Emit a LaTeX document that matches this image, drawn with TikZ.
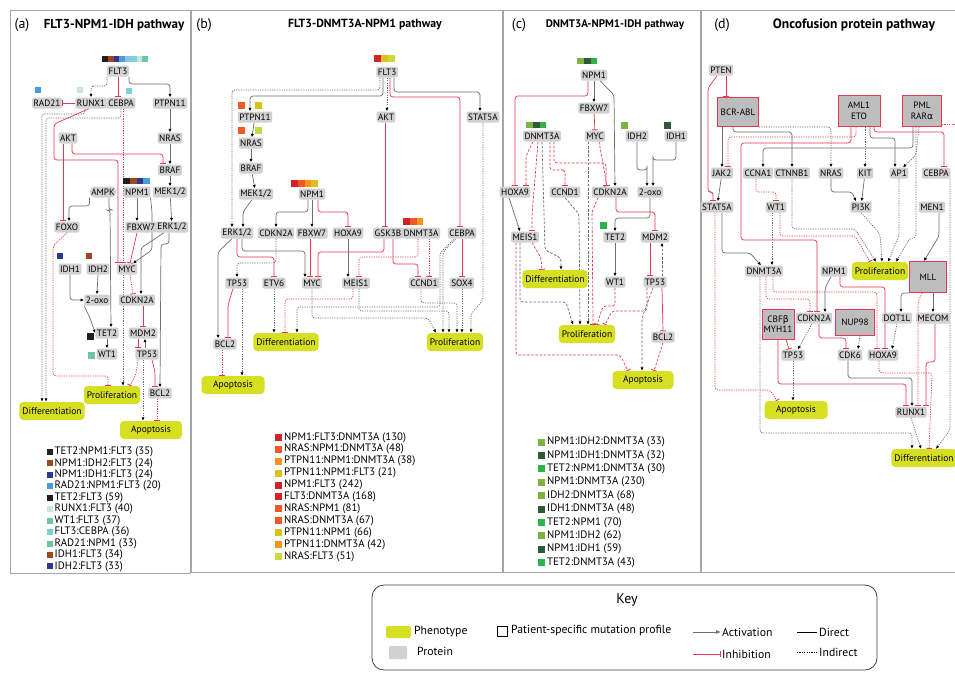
\documentclass[tikz,border=0pt]{standalone}
\usepackage{fontspec}
\setmainfont{PT Sans}
\newfontfamily\grk{DejaVu Sans}
\usetikzlibrary{arrows.meta}
\definecolor{protgray}{HTML}{D1D1D1}
\definecolor{fusgray}{HTML}{BDBDBD}
\definecolor{phenyel}{HTML}{D7DF23}
\definecolor{inhred}{HTML}{E8384F}
\definecolor{actgray}{HTML}{6D6E71}
\definecolor{cBlk}{HTML}{231F20}
\definecolor{cBrn}{HTML}{A2461E}
\definecolor{cNvy}{HTML}{2B3990}
\definecolor{cSky}{HTML}{4A9BD8}
\definecolor{cLbl}{HTML}{8CC3E8}
\definecolor{cCyn}{HTML}{7FD1D9}
\definecolor{cPal}{HTML}{C7E8D5}
\definecolor{cTeal}{HTML}{6DC5A5}
\definecolor{cRed}{HTML}{D2232A}
\definecolor{cOrR}{HTML}{EE5A24}
\definecolor{cOrg}{HTML}{F7941D}
\definecolor{cGld}{HTML}{DDBF1E}
\definecolor{cYgn}{HTML}{C9DA3A}
\definecolor{cLim}{HTML}{7CB342}
\definecolor{cDkg}{HTML}{2E5B3C}
\definecolor{cGrn}{HTML}{2DB34A}
\pgfdeclarelayer{paper}
\pgfdeclarelayer{back}
\pgfsetlayers{paper,back,main}
\tikzset{
  prot/.style={fill=protgray,rounded corners=2pt,inner xsep=1.5pt,inner ysep=1pt,minimum height=11pt,font=\fontsize{9.2}{10}\selectfont},
  phen/.style={fill=phenyel,rounded corners=4pt,minimum height=18pt,minimum width=55pt,inner xsep=3pt,font=\fontsize{9.5}{10}\selectfont},
  fus/.style={fill=fusgray,draw=inhred,line width=1pt,align=center,minimum width=38pt,minimum height=29pt,inner sep=1pt,font=\fontsize{9.2}{10.5}\selectfont},
  lnk/.style={line width=0.7pt,rounded corners=3pt},
  act/.style={lnk,draw=actgray,-{Latex[length=3.4pt,width=3.2pt,color=black]}},
  inh/.style={lnk,draw=inhred,-{Bar[width=6pt,line width=0.9pt]}},
  ind/.style={dash pattern=on 1.2pt off 1.2pt},
  dsh/.style={dash pattern=on 2.6pt off 1.6pt},
  pnl/.style={draw=black!35,line width=1pt},
  lbl/.style={font=\fontsize{14}{16}\selectfont},
  ttl/.style={font=\fontsize{11}{13}\selectfont\bfseries},
  leg/.style={anchor=west,inner sep=0pt,font=\fontsize{10.8}{11}\selectfont},
  keytxt/.style={anchor=west,inner sep=1pt,font=\fontsize{11.7}{13}\selectfont}
}
\begin{document}
\begin{tikzpicture}[x=1pt,y=-1pt]
\useasboundingbox (0,0) rectangle (955,673);
\begin{pgfonlayer}{paper}
\fill[white] (0,0) rectangle (955,673);
\end{pgfonlayer}
\draw[pnl] (10,10) rectangle (190,573);
\draw[pnl] (191,10) rectangle (502,572);
\draw[pnl] (503,10) rectangle (700,572);
\draw[pnl] (701,10) rectangle (965,572);

% (a) FLT3-NPM1-IDH
\node[lbl] (aTag) at (22,25) {(a)};
\node[ttl,font=\fontsize{13}{15}\selectfont\bfseries] (aTtl) at (114,25) {FLT3-NPM1-IDH pathway};
\foreach \c [count=\k from 0] in {cBlk,cBrn,cNvy,cSky,cLbl,cCyn,cPal,cTeal}
  \fill[\c] (102+5.75*\k,56) rectangle ++(5.75,6);
\foreach \c [count=\k from 0] in {cBlk,cBrn,cNvy,cSky}
  \fill[\c] (123+6.75*\k,178) rectangle ++(6.75,5.5);
\fill[cSky] (35,87) rectangle ++(6,6);
\fill[cPal] (77,87) rectangle ++(6,6);
\fill[cCyn] (126,88) rectangle ++(6,6);
\fill[cNvy] (57,253) rectangle ++(6,6);
\fill[cBrn] (86,253) rectangle ++(6,6);
\fill[cBlk] (87,333) rectangle ++(7,7);
\fill[cTeal] (88,352) rectangle ++(7,7);

\node[prot] (aFLT3) at (118,71) {FLT3};
\node[prot] (aRAD21) at (47,103) {RAD21};
\node[prot] (aRUNX1) at (91,103) {RUNX1};
\node[prot] (aCEBPA) at (121,103) {CEBPA};
\node[prot] (aPTPN11) at (170,103) {PTPN11};
\node[prot] (aAKT) at (68,138) {AKT};
\node[prot] (aNRAS) at (170,138) {NRAS};
\node[prot] (aBRAF) at (170,170) {BRAF};
\node[prot,rounded corners=5pt] (aAMPK) at (103,192) {AMPK};
\node[prot] (aNPM1) at (137,192) {NPM1};
\node[prot] (aMEK) at (170,192) {MEK1/2};
\node[prot] (aFOXO) at (67,227) {FOXO};
\node[prot] (aFBXW7) at (141,227) {FBXW7};
\node[prot] (aERK) at (172,227) {ERK1/2};
\node[prot] (aIDH1) at (70,269) {IDH1};
\node[prot] (aIDH2) at (98,269) {IDH2};
\node[prot] (aMYC) at (127,269) {MYC};
\node[prot] (aOXO) at (97,300) {2-oxo};
\node[prot] (aCDKN) at (137,300) {CDKN2A};
\node[prot] (aTET2) at (107,333) {TET2};
\node[prot] (aMDM2) at (143,333) {MDM2};
\node[prot] (aWT1) at (107,354) {WT1};
\node[prot] (aTP53) at (147,354) {TP53};
\node[phen] (aProl) at (112,395) {Proliferation};
\node[prot] (aBCL2) at (160,393) {BCL2};
\node[phen] (aDiff) at (52,411) {Differentiation};
\node[phen,minimum width=62pt] (aApop) at (151,430) {Apoptosis};

\begin{pgfonlayer}{back}
\draw[act,ind] (aFLT3.south west) |- (96,86) -| (aRUNX1.north);
\draw[inh] (aFLT3.south) -- (aFLT3.south |- aCEBPA.north);
\draw[act] (aFLT3.south east) |- (150,84) -| (aPTPN11.north);
\draw[inh] (aRUNX1.west) -- (aRAD21.east);
\draw[act,ind] ([xshift=-6pt]aRUNX1.south) |- (42,114) -- ([xshift=-10pt]aDiff.north);
\draw[act,ind] (aCEBPA.south) |- (46,118) -- ([xshift=-6pt]aDiff.north);
\draw[inh] ([xshift=-2pt]aRUNX1.south) -- (54,124) -- (54,160) -| ([xshift=-9pt]aMYC.north);
\draw[inh,ind] ([xshift=2pt]aCEBPA.south) -- ([xshift=-4pt]aMYC.north);
\draw[act] (aPTPN11) -- (aNRAS);
\draw[act] (aNRAS) -- (aBRAF);
\draw[act] (aBRAF) -- (aMEK);
\draw[act] (aMEK) -- (aERK);
\draw[inh] ([xshift=-5pt]aAKT.south) -- ([xshift=-4pt]aFOXO.north);
\draw[inh] ([xshift=4pt]aAKT.south) |- (150,154) -| ([xshift=-7pt]aBRAF.north);
\draw[act] (aAMPK.south west) |- (78,206) -| ([xshift=2pt]aFOXO.north);
\draw[act] ([xshift=6pt]aAMPK.south) |- (110,210) -- ([xshift=4pt]aTET2.north);
\draw[act] (aNPM1.south) -- (aNPM1.south |- aFBXW7.north);
\draw[act] (aNPM1.south east) -- (152,212) -- (152,250) -- ([xshift=6pt]aMYC.north);
\draw[act] ([xshift=-8pt]aERK.south) -- (141,248) -- ([xshift=4pt]aCDKN.north);
\draw[act] ([xshift=-3pt]aERK.south) |- (161,244) -- (aBCL2.north);
\draw[inh] ([xshift=-4pt]aFBXW7.south) -- (134,246) -- ([xshift=3pt]aMYC.north);
\draw[inh,ind] (aFOXO.south) -- (53,246) -- (53,376) -| ([xshift=-4pt]aProl.north);
\draw[act] (aIDH1.south) |- (aOXO.west);
\draw[act] (aIDH2.south) -- (aOXO.north);
\draw[act] (aOXO.south west) -- (90,318) -- (aTET2.west);
\draw[act] (aTET2) -- (aWT1);
\draw[inh,ind] ([xshift=3pt]aMYC.south) -- ([xshift=-4pt]aCDKN.north);
\draw[inh] ([xshift=6pt]aCDKN.south) -- (aMDM2.north);
\draw[inh] ([xshift=-5pt]aMDM2.south) -- ([xshift=-9pt]aTP53.north);
\draw[act] ([xshift=-2pt]aTP53.north) -- ([xshift=2pt]aMDM2.south);
\draw[inh] ([xshift=5pt]aTP53.south) -- (155,372) -- ([xshift=-5pt]aBCL2.north);
\draw[act,ind] ([xshift=-4pt]aTP53.south) -- ([xshift=-8pt]aApop.north);
\draw[inh,ind] ([xshift=-3pt]aBCL2.south) -- ([xshift=6pt]aApop.north);
\draw[act,ind] ([xshift=-4pt]aMYC.south) -- ([xshift=11pt]aProl.north);
\draw[inh,ind] ([xshift=-9pt]aTP53.south) -- (136,374) -- ([xshift=18pt]aProl.north);
\end{pgfonlayer}

\foreach \c/\t [count=\k] in {cBlk/TET2:NPM1:FLT3 (35), cBrn/NPM1:IDH2:FLT3 (24), cNvy/NPM1:IDH1:FLT3 (24), cSky/RAD21:NPM1:FLT3 (20), cBlk/TET2:FLT3 (59), cPal/RUNX1:FLT3 (40), cTeal/WT1:FLT3 (37), cCyn/FLT3:CEBPA (36), cTeal/RAD21:NPM1 (33), cBrn/IDH1:FLT3 (34), cNvy/IDH2:FLT3 (33)} {
  \fill[\c] (47,437.5+11.45*\k) rectangle ++(6,6);
  \node[leg] (aL\k) at (54.5,440.5+11.45*\k) {\t};
}

% (b) FLT3-DNMT3A-NPM1
\node[lbl] (bTag) at (204,25) {(b)};
\node[ttl,font=\fontsize{11.8}{14}\selectfont\bfseries] (bTtl) at (365,25) {FLT3-DNMT3A-NPM1 pathway};
\foreach \c [count=\k from 0] in {cRed,cGld,cYgn}
  \fill[\c] (374+7*\k,55) rectangle ++(7,7);
\foreach \c [count=\k from 0] in {cRed,cOrR,cOrg,cGld}
  \fill[\c] (291+6.75*\k,180) rectangle ++(6.75,6.5);
\foreach \c [count=\k from 0] in {cRed,cOrR,cOrg}
  \fill[\c] (403+6.75*\k,218) rectangle ++(6.75,6.5);
\fill[cOrR] (238,102) rectangle ++(7,7);
\fill[cGld] (255,102) rectangle ++(7,7);
\fill[cOrR] (238,127) rectangle ++(7,7);
\fill[cYgn] (255,127) rectangle ++(7,7);

\node[prot] (bFLT3) at (387,72) {FLT3};
\node[prot] (bPTPN11) at (255,117) {PTPN11};
\node[prot] (bAKT) at (386,117) {AKT};
\node[prot] (bSTAT5A) at (483,117) {STAT5A};
\node[prot] (bNRAS) at (251,143) {NRAS};
\node[prot] (bBRAF) at (251,168) {BRAF};
\node[prot] (bMEK) at (256,194) {MEK1/2};
\node[prot] (bNPM1) at (312,194) {NPM1};
\node[prot] (bERK) at (237,233) {ERK1/2};
\node[prot] (bCDKN) at (276,233) {CDKN2A};
\node[prot] (bFBXW7) at (312,233) {FBXW7};
\node[prot] (bHOXA9) at (348,233) {HOXA9};
\node[prot] (bGSK3B) at (388,233) {GSK3B};
\node[prot] (bDNMT3A) at (421,233) {DNMT3A};
\node[prot] (bCEBPA) at (462,233) {CEBPA};
\node[prot] (bTP53) at (237,283) {TP53};
\node[prot] (bETV6) at (274,283) {ETV6};
\node[prot] (bMYC) at (312,283) {MYC};
\node[prot] (bMEIS1) at (356,283) {MEIS1};
\node[prot] (bCCND1) at (424,283) {CCND1};
\node[prot] (bSOX4) at (462,283) {SOX4};
\node[prot] (bBCL2) at (225,344) {BCL2};
\node[phen] (bDiff) at (286,342) {Differentiation};
\node[phen] (bProl) at (455,342) {Proliferation};
\node[phen,minimum width=63pt] (bApop) at (233,385) {Apoptosis};

\begin{pgfonlayer}{back}
\draw[act] ([xshift=-4pt]bFLT3.south) |- (300,96) -| ([xshift=-5pt]bPTPN11.north);
\draw[act,ind] ([xshift=-7pt]bFLT3.south) |- (300,90) -| ([xshift=-5pt]bERK.north);
\draw[act,ind] (bFLT3.south) -- (bFLT3.south |- bAKT.north);
\draw[inh] ([xshift=3pt]bFLT3.south) |- (420,97) -| ([xshift=-2pt]bCEBPA.north);
\draw[act] ([xshift=7pt]bFLT3.south) |- (440,92) -| ([xshift=-3pt]bSTAT5A.north);
\draw[inh] ([xshift=-1pt]bAKT.south) -- ([xshift=-1pt]bAKT.south |- bGSK3B.north);
\draw[act] (bPTPN11) -- (bNRAS);
\draw[act] (bNRAS) -- (bBRAF);
\draw[act] (bBRAF) -- (bMEK);
\draw[act] ([xshift=-4pt]bMEK.south) -- (243,212) -- ([xshift=6pt]bERK.north);
\draw[act] ([xshift=-4pt]bNPM1.south) |- (290,212) -| (bCDKN.north);
\draw[act] (bNPM1) -- (bFBXW7);
\draw[inh] ([xshift=6pt]bNPM1.south) |- (335,212) -| (bHOXA9.north);
\draw[act] ([xshift=-5pt]bERK.south) -- (218,252) -- ([xshift=-7pt]bBCL2.north);
\draw[inh] (bERK.south) |- (260,257) -| (bETV6.north);
\draw[act] ([xshift=5pt]bERK.south) |- (290,251) -| ([xshift=-7pt]bMYC.north);
\draw[act,ind] (bCDKN.south) |- (250,263) -| (bTP53.north);
\draw[inh] ([xshift=-2pt]bFBXW7.south) -- ([xshift=-2pt]bMYC.north);
\draw[inh] ([xshift=-4pt]bGSK3B.south) |- (340,252) -| ([xshift=6pt]bMYC.north);
\draw[act] (bHOXA9.south) -- (bHOXA9.south |- bMEIS1.north);
\draw[inh,ind] ([xshift=-3pt]bDNMT3A.south) |- (380,257) -| ([xshift=3pt]bMEIS1.north);
\draw[inh,ind] ([xshift=8pt]bDNMT3A.south) -- ([xshift=5pt]bCCND1.north);
\draw[inh] ([xshift=5pt]bGSK3B.south) |- (412,264) -| ([xshift=-6pt]bCCND1.north);
\draw[inh] (bCEBPA.south) -- (bSOX4.north);
\draw[act,ind] ([xshift=-6pt]bCEBPA.south) -- (443,252) -- ([xshift=-12pt]bProl.north);
\draw[act,ind] ([xshift=-8pt]bCEBPA.south) -- (440,253) |- (297,307) -- ([xshift=11pt]bDiff.north);
\draw[act,ind] (bSTAT5A.south) -- (483,300) -- (471,314) -- ([xshift=16pt]bProl.north);
\draw[act,ind] (bSOX4.south) -- (bSOX4.south |- bProl.north);
\draw[act,ind] ([xshift=-3pt]bCCND1.south) |- (445,303) -| ([xshift=2pt]bProl.north);
\draw[act,ind] (bMYC.south) |- (428,318) -- ([xshift=-19pt]bProl.north);
\draw[act,ind] ([xshift=3pt]bMEIS1.south) |- (430,311) -| ([xshift=-6pt]bProl.north);
\draw[inh,ind] ([xshift=-3pt]bMEIS1.south) |- (300,299) -| ([xshift=-1pt]bDiff.north);
\draw[act,ind] (bETV6.south) -- (bETV6.south |- bDiff.north);
\draw[inh] ([xshift=-4pt]bTP53.south) -- (228,305) -- ([xshift=3pt]bBCL2.north);
\draw[act,ind] ([xshift=5pt]bTP53.south) -- ([xshift=9pt]bApop.north);
\draw[inh,ind] ([xshift=-3pt]bBCL2.south) -- ([xshift=-11pt]bApop.north);
\end{pgfonlayer}

\foreach \c/\t [count=\k] in {cRed/NPM1:FLT3:DNMT3A (130), cOrR/NRAS:NPM1:DNMT3A (48), cOrg/PTPN11:NPM1:DNMT3A (38), cGld/PTPN11:NPM1:FLT3 (21), cRed/NPM1:FLT3 (242), cRed/FLT3:DNMT3A (168), cOrR/NRAS:NPM1 (81), cOrR/NRAS:DNMT3A (67), cGld/PTPN11:NPM1 (66), cOrg/PTPN11:DNMT3A (42), cYgn/NRAS:FLT3 (51)} {
  \fill[\c] (275,422+11.9*\k) rectangle ++(7,7);
  \node[leg] (bL\k) at (284,425.5+11.9*\k) {\t};
}

% (c) DNMT3A-NPM1-IDH
\node[lbl] (cTag) at (519,25) {(c)};
\node[ttl] (cTtl) at (615,25) {DNMT3A-NPM1-IDH pathway};
\foreach \c [count=\k from 0] in {cLim,cDkg,cGrn}
  \fill[\c] (577+6.75*\k,58) rectangle ++(6.75,6);
\foreach \c [count=\k from 0] in {cLim,cDkg,cGrn}
  \fill[\c] (526+6.75*\k,122) rectangle ++(6.75,6);
\fill[cLim] (621,122) rectangle ++(6.5,6.5);
\fill[cDkg] (664,122) rectangle ++(6.5,6.5);
\fill[cGrn] (600,222) rectangle ++(6.5,6.5);

\node[prot] (cNPM1) at (594,75) {NPM1};
\node[prot] (cFBXW7) at (594,108) {FBXW7};
\node[prot] (cDNMT3A) at (542,136) {DNMT3A};
\node[prot] (cMYC) at (595,136) {MYC};
\node[prot] (cIDH2) at (637,136) {IDH2};
\node[prot] (cIDH1) at (676,136) {IDH1};
\node[prot] (cHOXA9) at (515,192) {HOXA9};
\node[prot] (cCCND1) at (565,192) {CCND1};
\node[prot] (cCDKN) at (610,192) {CDKN2A};
\node[prot] (cOXO) at (650,192) {2-oxo};
\node[prot] (cMEIS1) at (525,237) {MEIS1};
\node[prot] (cTET2) at (615,237) {TET2};
\node[prot] (cMDM2) at (655,237) {MDM2};
\node[phen] (cDiff) at (555,279) {Differentiation};
\node[prot] (cWT1) at (615,282) {WT1};
\node[prot] (cTP53) at (655,282) {TP53};
\node[phen] (cProl) at (587,334) {Proliferation};
\node[prot] (cBCL2) at (663,337) {BCL2};
\node[phen,minimum width=61pt] (cApop) at (643,380) {Apoptosis};

\begin{pgfonlayer}{back}
\draw[inh] ([xshift=-6pt]cNPM1.south) |- (560,96) -| (cHOXA9.north);
\draw[act] (cNPM1) -- (cFBXW7);
\draw[act] ([xshift=6pt]cNPM1.south) -- (614,95) -- ([xshift=5pt]cCDKN.north);
\draw[inh] (cFBXW7) -- (cMYC);
\draw[act] (cIDH2.south) |- (647,170) -| ([xshift=-3pt]cOXO.north);
\draw[act] (cIDH1.south) |- (653,160) -| ([xshift=3pt]cOXO.north);
\draw[inh,dsh] ([xshift=-9pt]cDNMT3A.south) -- (526,156) -- ([xshift=11pt]cHOXA9.north);
\draw[inh,dsh] ([xshift=-4pt]cDNMT3A.south) -- (532,215) -- ([xshift=7pt]cMEIS1.north);
\draw[inh,dsh] ([xshift=8pt]cDNMT3A.south) |- (560,170) -| (cCCND1.north);
\draw[inh,dsh] ([xshift=12pt]cDNMT3A.south) |- (595,163) -| ([xshift=-4pt]cCDKN.north);
\draw[inh,dsh] ([xshift=4pt]cMYC.south) -- ([xshift=-3pt]cCDKN.north);
\draw[act,dsh] (cDNMT3A.south) -- (545,250) -- (561,258) -- ([xshift=6pt]cDiff.north);
\draw[act,dsh] ([xshift=-7pt]cMYC.south) -- ([xshift=1pt]cProl.north);
\draw[act,dsh] (cCCND1.south) -- (579,214) -- ([xshift=-7pt]cProl.north);
\draw[inh,dsh] ([xshift=-12pt]cCDKN.south) -- (592,212) -- ([xshift=6pt]cProl.north);
\draw[inh] ([xshift=6pt]cCDKN.south) |- (640,212) -| (cMDM2.north);
\draw[act] (cOXO.south) |- (625,218) -| (cTET2.north);
\draw[act] ([xshift=-6pt]cHOXA9.south) -- ([xshift=-5pt]cMEIS1.north);
\draw[inh,dsh] ([xshift=7pt]cMEIS1.south) -- (541,258) -- ([xshift=-13pt]cDiff.north);
\draw[inh,dsh] ([xshift=-9pt]cMEIS1.south) |- (620,355) -- ([xshift=-15pt]cApop.north);
\draw[act,dsh] ([xshift=-5pt]cMEIS1.south) |- (566,302) -- ([xshift=-14pt]cProl.north);
\draw[act] (cTET2) -- (cWT1);
\draw[inh] ([xshift=-5pt]cMDM2.south) -- ([xshift=-5pt]cTP53.north);
\draw[act,dsh] ([xshift=7pt]cTP53.north) -- ([xshift=7pt]cMDM2.south);
\draw[inh] ([xshift=7pt]cTP53.south) -- (cBCL2.north);
\draw[inh,dsh] (cWT1.south) |- (603,306) -- ([xshift=10pt]cProl.north);
\draw[inh,dsh] ([xshift=-8pt]cTP53.south) |- (612,311) -- ([xshift=18pt]cProl.north);
\draw[act,dsh] ([xshift=-2pt]cTP53.south) -- (642,318) -- ([xshift=-1pt]cApop.north);
\draw[inh,dsh] (cBCL2.south) -- ([xshift=11pt]cApop.north);
\end{pgfonlayer}

\foreach \c/\t [count=\k] in {cLim/NPM1:IDH2:DNMT3A (33), cDkg/NPM1:IDH1:DNMT3A (32), cGrn/TET2:NPM1:DNMT3A (30), cLim/NPM1:DNMT3A (230), cLim/IDH2:DNMT3A (68), cDkg/IDH1:DNMT3A (48), cGrn/TET2:NPM1 (70), cLim/NPM1:IDH2 (62), cDkg/NPM1:IDH1 (59), cGrn/TET2:DNMT3A (43)} {
  \fill[\c] (538,425.1+13.4*\k) rectangle ++(7,7);
  \node[leg] (cL\k) at (547,428.6+13.4*\k) {\t};
}

% (d) oncofusion
\node[lbl] (dTag) at (722,25) {(d)};
\node[ttl,font=\fontsize{13.5}{15}\selectfont\bfseries] (dTtl) at (854,25) {Oncofusion protein pathway};
\node[prot] (dPTEN) at (721,70) {PTEN};
\node[fus,minimum width=41pt] (dBCR) at (738,112) {BCR-ABL};
\node[fus,minimum width=42pt,minimum height=31pt] (dAML) at (859,111) {AML1\\ETO};
\node[fus,minimum width=39pt,minimum height=31pt] (dPML) at (922,111) {PML\\RAR{\grk α}};
\node[prot] (dJAK2) at (722,173) {JAK2};
\node[prot] (dCCNA1) at (758,173) {CCNA1};
\node[prot] (dCTNNB1) at (792,173) {CTNNB1};
\node[prot] (dNRAS) at (831,173) {NRAS};
\node[prot] (dKIT) at (865,173) {KIT};
\node[prot] (dAP1) at (899,173) {AP1};
\node[prot] (dCEBPA) at (936,173) {CEBPA};
\node[prot] (dSTAT5A) at (717,207) {STAT5A};
\node[prot] (dWT1) at (776,207) {WT1};
\node[prot] (dPI3K) at (861,207) {PI3K};
\node[prot] (dMEN1) at (932,207) {MEN1};
\node[phen] (dProl) at (880,271) {Proliferation};
\node[fus,minimum width=37pt,minimum height=31pt] (dMLL) at (928,277) {MLL};
\node[prot] (dDNMT3A) at (764,271) {DNMT3A};
\node[prot] (dNPM1) at (834,271) {NPM1};
\node[fus,minimum width=32pt,minimum height=30pt] (dCBF) at (778,324) {CBF{\grk β}\\MYH11};
\node[prot] (dCDKN) at (814,318) {CDKN2A};
\node[fus,minimum width=39pt,minimum height=26pt] (dNUP98) at (855,322) {NUP98};
\node[prot] (dDOT1L) at (897,318) {DOT1L};
\node[prot] (dMECOM) at (933,318) {MECOM};
\node[prot] (dTP53) at (793,355) {TP53};
\node[prot] (dCDK6) at (850,355) {CDK6};
\node[prot] (dHOXA9) at (883,355) {HOXA9};
\node[phen,minimum width=63pt] (dApop) at (796,410) {Apoptosis};
\node[prot] (dRUNX1) at (911,412) {RUNX1};
\node[phen] (dDiff) at (924,458) {Differentiation};
\coordinate (dEdge) at (962,124);

\begin{pgfonlayer}{back}
\draw[inh] ([xshift=5pt]dPTEN.south) -- ([xshift=5pt]dPTEN.south |- dBCR.north);
\draw[inh] ([xshift=-4pt]dPTEN.south) -- (708,88) -- (708,192) -| ([xshift=-4pt]dSTAT5A.north);
\draw[act] (dBCR.south -| dJAK2.north) -- (dJAK2.north);
\draw[act] ([xshift=-5pt]dBCR.south) |- (780,132) -| (dCTNNB1.north);
\draw[act,ind] (dBCR.south east) -| (dNRAS.north);
\draw[inh,ind] ([xshift=-3pt]dAML.south) |- (800,137) -| ([xshift=6pt]dJAK2.north);
\draw[inh] ([xshift=-8pt]dAML.south) |- (800,143) -| (741,240) -| ([xshift=3pt]dCDKN.north);
\draw[act,ind] ([xshift=6pt]dAML.south) -- (dKIT.north);
\draw[act] ([xshift=11pt]dAML.south) |- (890,138) -| ([xshift=-4pt]dAP1.north);
\draw[inh] ([xshift=15pt]dAML.south) |- (930,132) -| ([xshift=8pt]dCEBPA.north);
\draw[act] ([xshift=-9pt]dPML.south) |- (800,148) -| ([xshift=5pt]dCCNA1.north);
\draw[act,ind] ([xshift=-3pt]dPML.south) -- (916,155) -- ([xshift=4pt]dAP1.north);
\draw[inh,ind] ([yshift=3pt]dPML.south east) -- (dEdge);
\draw[act,ind] ([xshift=-6pt]dPML.south) -- (916,150) |- (910,238) -- ([xshift=16pt]dProl.north);
\draw[act] (dJAK2) -- (dSTAT5A);
\draw[inh,ind] ([xshift=-2pt]dCCNA1.south) |- (770,192) -| (dWT1.north);
\draw[act] (dNRAS.south) |- (852,192) -- ([xshift=-5pt]dPI3K.north);
\draw[act] (dKIT) -- (dPI3K);
\draw[act,ind] (dPI3K.south) -- (880,234) -- ([xshift=2pt]dProl.north);
\draw[act,ind] (dAP1.south) -- (899,236) -- ([xshift=8pt]dProl.north);
\draw[act,ind] (dCTNNB1.south) |- (855,229) -- ([xshift=-4pt]dProl.north);
\draw[inh,ind] ([xshift=4pt]dWT1.south) |- (855,236) -- ([xshift=-10pt]dProl.north);
\draw[act] ([xshift=7pt]dMEN1.south) -- (939,236) -- ([xshift=-4pt]dMLL.north);
\draw[act] ([xshift=5pt]dSTAT5A.south) |- (750,253) -- ([xshift=-3pt]dDNMT3A.north);
\draw[inh,ind] ([xshift=-2pt]dSTAT5A.south) |- (770,390) -- ([xshift=-19pt]dApop.north);
\draw[act,ind] ([xshift=-4pt]dWT1.south) -- ([xshift=8pt]dDNMT3A.north);
\draw[act,ind] ([xshift=-4pt]dDNMT3A.south) |- (900,433) -| ([xshift=-12pt]dDiff.north);
\draw[inh,ind] ([xshift=2pt]dDNMT3A.south) |- (800,299) -| ([xshift=-4pt]dCDKN.north);
\draw[inh,ind] ([xshift=9pt]dDNMT3A.south) |- (860,292) -| ([xshift=-6pt]dHOXA9.north);
\draw[act] ([xshift=-3pt]dNPM1.south) -- (825,288) -- ([xshift=11pt]dCDKN.north);
\draw[inh] ([xshift=6pt]dNPM1.south) |- (870,287) -| ([xshift=2pt]dHOXA9.north);
\draw[inh] ([xshift=8pt]dCBF.south) -- ([xshift=-4pt]dTP53.north);
\draw[act,ind] ([xshift=-2pt]dCDKN.south) -- ([xshift=5pt]dTP53.north);
\draw[inh] ([xshift=5pt]dCDKN.south) |- (835,338) -| ([xshift=-4pt]dCDK6.north);
\draw[act,ind] ([xshift=5pt]dNUP98.south) -- ([xshift=8pt]dCDK6.north);
\draw[act,ind] (dDOT1L.south) -- ([xshift=9pt]dHOXA9.north);
\draw[act] (dMLL.south west) -| ([xshift=4pt]dDOT1L.north);
\draw[act] (dMLL.south -| dMECOM.north) -- (dMECOM.north);
\draw[inh,ind] ([xshift=-6pt]dMLL.south) -- (918,302) -- ([xshift=7pt]dRUNX1.north);
\draw[inh] ([xshift=2pt]dMECOM.south) |- (926,362) -- ([xshift=15pt]dRUNX1.north);
\draw[inh] (dCBF.south) |- (890,384) -| ([xshift=-5pt]dRUNX1.north);
\draw[act] ([xshift=-2pt]dCDK6.south) |- (900,378) -| ([xshift=1pt]dRUNX1.north);
\draw[act,ind] (dTP53.south) -- (dTP53.south |- dApop.north);
\draw[inh,ind] ([xshift=-4pt]dHOXA9.south) |- (932,373) -- ([xshift=5pt]dDiff.north);
\draw[act,ind] (dRUNX1.south) -- ([xshift=-3pt]dDiff.north);
\draw[act,ind] ([xshift=14pt]dCEBPA.south) -- (950,430) -- ([xshift=12pt]dDiff.north);
\end{pgfonlayer}

% key
\draw[rounded corners=12pt,draw=black!75,line width=0.8pt] (372,585) rectangle (877,670);
\node[font=\fontsize{14}{16}\selectfont] (kTtl) at (627,600) {Key};
\fill[phenyel,rounded corners=2pt] (386,626) rectangle (411,638);
\node[keytxt] (kPhen) at (413,632) {Phenotype};
\fill[protgray,rounded corners=1pt] (389,646) rectangle (407,659);
\node[keytxt] (kProt) at (416,651) {Protein};
\draw[line width=0.7pt] (497,626) rectangle (507,636);
\node[keytxt] (kMut) at (510,631) {Patient-specific mutation profile};
\node[keytxt] (kAct) at (721,632) {Activation};
\node[keytxt] (kInh) at (721,654) {Inhibition};
\node[keytxt] (kDir) at (818,632) {Direct};
\node[keytxt] (kInd) at (818,652) {Indirect};
\draw[act,rounded corners=0pt,-{Latex[length=5pt,width=4pt,color=actgray]}] ([xshift=-28pt]kAct.west) -- (kAct.west);
\draw[inh,rounded corners=0pt] ([xshift=-28pt]kInh.west) -- (kInh.west);
\draw[line width=0.8pt] ([xshift=-21pt]kDir.west) -- ([xshift=-1pt]kDir.west);
\draw[line width=0.5pt,ind] ([xshift=-21pt]kInd.west) -- ([xshift=-1pt]kInd.west);
\end{tikzpicture}
\end{document}
